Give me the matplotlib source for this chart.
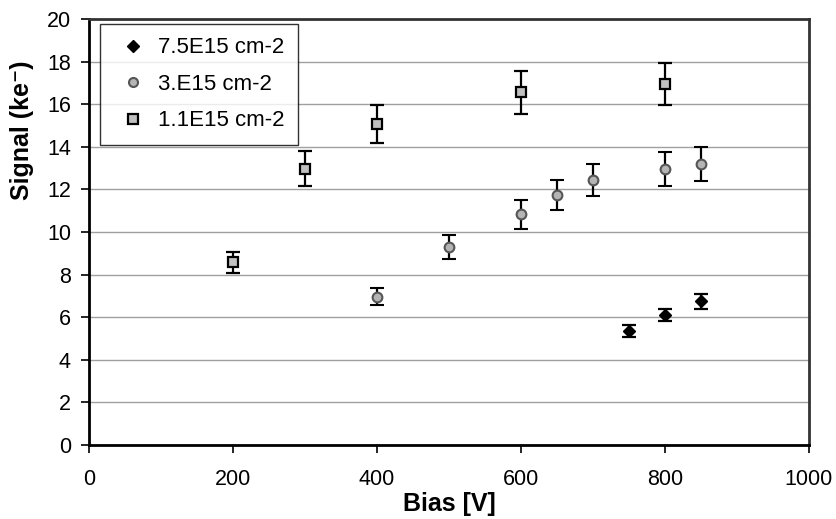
import matplotlib
matplotlib.use('Agg')
import matplotlib.pyplot as plt

plt.rcParams['font.family'] = ['Liberation Sans', 'DejaVu Sans']

# 7.5E15 cm-2
bias_a = [750, 800, 850]
sig_a = [5.35, 6.1, 6.75]
err_a = [0.27, 0.3, 0.35]

# 3.E15 cm-2
bias_b = [400, 500, 600, 650, 700, 800, 850]
sig_b = [6.95, 9.28, 10.83, 11.72, 12.43, 12.97, 13.2]
err_b = [0.4, 0.57, 0.67, 0.7, 0.75, 0.8, 0.8]

# 1.1E15 cm-2
bias_c = [200, 300, 400, 600, 800]
sig_c = [8.58, 12.98, 15.07, 16.56, 16.95]
err_c = [0.5, 0.8, 0.9, 1.0, 1.0]

labels = ['7.5E15 cm-2', '3.E15 cm-2', '1.1E15 cm-2']

fig = plt.figure(figsize=(8.37, 5.19), dpi=100)
ax = fig.add_axes([89 / 837, 74 / 519, 720 / 837, 426 / 519])

eb = dict(ls='none', ecolor='black', elinewidth=1.6, capsize=4.7, capthick=1.6)
ax.errorbar(bias_a, sig_a, yerr=err_a, marker='D', ms=6.5, mfc='black', mec='black',
            label=labels[0], zorder=3, **eb)
ax.errorbar(bias_b, sig_b, yerr=err_b, marker='o', ms=7, mfc='#b4b4b4', mec='#555555',
            mew=1.5, label=labels[1], zorder=3, **eb)
ax.errorbar(bias_c, sig_c, yerr=err_c, marker='s', ms=7.5, mfc='#c0c0c0', mec='black',
            mew=1.6, label=labels[2], zorder=3, **eb)

ax.set_xlim(0, 1000)
ax.set_ylim(0, 20)
ax.set_xticks(range(0, 1001, 200))
ax.set_yticks(range(0, 21, 2))
ax.yaxis.grid(True, color='#a0a0a0', lw=1)
ax.set_axisbelow(True)
ax.tick_params(direction='out', length=6, width=1.2, labelsize=15.5, color='black')
ax.tick_params(axis='x', pad=11)
ax.tick_params(axis='y', pad=7)
for s in ax.spines.values():
    s.set_linewidth(2)
    s.set_color('black')
ax.spines['top'].set_color('#333333')
ax.spines['right'].set_color('#333333')

ax.set_xlabel('Bias [V]', fontsize=18, fontweight='bold')
ax.set_ylabel('Signal (ke\u207b)', fontsize=18, fontweight='bold')
ax.xaxis.set_label_coords(0.5, -0.11)
ax.yaxis.set_label_coords(-0.076, 0.74)

handles, labs = ax.get_legend_handles_labels()
handles = [h[0] for h in handles]
leg = ax.legend(handles, labs, loc='upper left', bbox_to_anchor=(11 / 720, 1 - 5 / 426),
                fontsize=16, frameon=True, fancybox=False, edgecolor='black',
                handlelength=1.8, handletextpad=0.2, labelspacing=0.7,
                borderpad=0.6, borderaxespad=0)
leg.get_frame().set_linewidth(1)
for h in leg.legend_handles:
    h.set_markersize(6.5)

fig.savefig('out.png', dpi=100)
